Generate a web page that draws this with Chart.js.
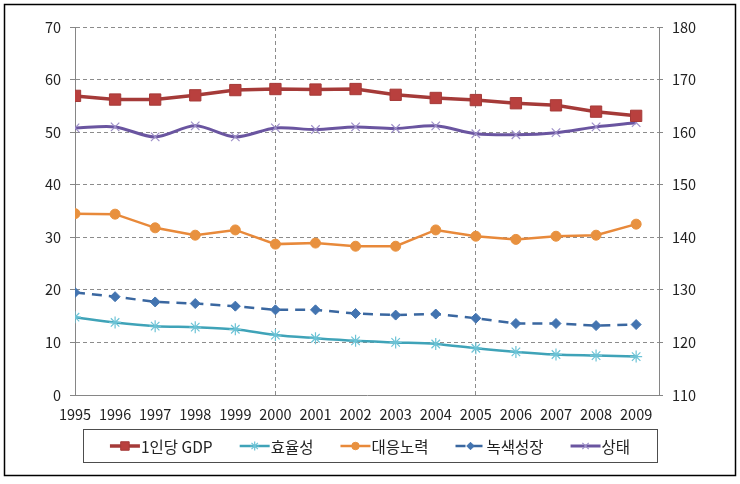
<!DOCTYPE html>
<html>
<head>
<meta charset="utf-8">
<script src="https://cdn.jsdelivr.net/npm/chart.js@4/dist/chart.umd.min.js"></script>
<style>
  html, body { margin: 0; padding: 0; background: #fff; }
  #chart { display: block; }
</style>
</head>
<body>
<canvas id="chart" width="740" height="484"></canvas>
<script>
// 데이터
const years = [1995, 1996, 1997, 1998, 1999, 2000, 2001, 2002, 2003, 2004, 2005, 2006, 2007, 2008, 2009];
const gdpPerCapita = [56.9, 56.2, 56.2, 57.0, 58.0, 58.2, 58.1, 58.2, 57.1, 56.5, 56.1, 55.5, 55.1, 53.9, 53.1];
const efficiency = [14.8, 13.8, 13.1, 12.9, 12.5, 11.4, 10.8, 10.3, 10.0, 9.7, 8.9, 8.2, 7.7, 7.5, 7.3];
const response = [34.5, 34.4, 31.8, 30.4, 31.4, 28.7, 28.9, 28.3, 28.3, 31.4, 30.2, 29.6, 30.2, 30.4, 32.5];
const greenGrowth = [19.5, 18.7, 17.7, 17.4, 16.9, 16.2, 16.2, 15.5, 15.2, 15.4, 14.6, 13.6, 13.6, 13.2, 13.4];
const state = [50.8, 51.0, 49.1, 51.2, 49.1, 50.8, 50.5, 51.0, 50.7, 51.2, 49.7, 49.5, 49.9, 51.0, 51.8];
const seriesLabels = ['1인당 GDP', '효율성', '대응노력', '녹색성장', '상태'];
const leftTicks = {min: 0, max: 70, step: 10};
const rightTicks = {min: 110, max: 180, step: 10};
const gridYears = [2000, 2005];

const FONT = '"Noto Sans CJK KR", "Noto Sans", sans-serif';
Chart.defaults.font.family = FONT;
Chart.defaults.font.size = 14;
Chart.defaults.color = '#222';

const toPoints = (values) => values.map((v, i) => ({x: years[i], y: v}));

// 테두리 있는 범례 + 바깥 테두리
const boxLegend = {
  id: 'boxLegend',
  afterDraw(chart) {
    const ctx = chart.ctx;
    ctx.save();
    ctx.font = '15.5px ' + FONT;
    const items = chart.data.datasets.map((ds) => ({ds, w: ctx.measureText(ds.label).width}));
    const lineLen = 30;
    const gap = 27;
    const total = items.reduce((s, it) => s + lineLen + 1 + it.w, 0) + gap * (items.length - 1);
    let x = 370 - total / 2;
    const y = 446;

    ctx.strokeStyle = '#4d4d4d';
    ctx.lineWidth = 1;
    ctx.strokeRect(83.5, 429.5, 574, 33);

    items.forEach(({ds, w}) => {
      ctx.save();
      ctx.strokeStyle = ds.borderColor;
      ctx.lineWidth = ds.borderWidth;
      ctx.setLineDash(ds.borderDash || []);
      ctx.beginPath();
      ctx.moveTo(x, y);
      ctx.lineTo(x + lineLen, y);
      ctx.stroke();
      ctx.setLineDash([]);
      ctx.fillStyle = ds.pointBackgroundColor;
      ctx.strokeStyle = ds.pointBorderColor;
      ctx.lineWidth = ds.pointBorderWidth;
      Chart.helpers.drawPoint(ctx, {
        pointStyle: ds.pointStyle,
        radius: ds.pointRadius * 0.75,
        rotation: 0,
        borderWidth: ds.pointBorderWidth,
      }, x + lineLen / 2, y);
      ctx.restore();
      ctx.fillStyle = '#222';
      ctx.textBaseline = 'middle';
      ctx.fillText(ds.label, x + lineLen + 1, y + 1);
      x += lineLen + 1 + w + gap;
    });

    ctx.strokeStyle = '#000';
    ctx.lineWidth = 1.5;
    ctx.strokeRect(4.5, 4.5, 731, 471);
    ctx.restore();
  },
};

const gridColor = '#8c8c8c';
const axisColor = '#868686';

new Chart(document.getElementById('chart'), {
  type: 'line',
  data: {
    datasets: [
      {
        label: seriesLabels[0],
        data: toPoints(gdpPerCapita),
        borderColor: '#a53a38',
        borderWidth: 3.5,
        pointStyle: 'rect',
        pointRadius: 8,
        pointBackgroundColor: '#b9403e',
        pointBorderColor: '#a53a38',
        pointBorderWidth: 1,
        tension: 0,
      },
      {
        label: seriesLabels[1],
        data: toPoints(efficiency),
        borderColor: '#3fa3b8',
        borderWidth: 2.5,
        pointStyle: 'star',
        pointRadius: 6,
        pointBackgroundColor: '#6cc3d6',
        pointBorderColor: '#6cc3d6',
        pointBorderWidth: 1.2,
        tension: 0.3,
      },
      {
        label: seriesLabels[2],
        data: toPoints(response),
        borderColor: '#e8893a',
        borderWidth: 2.5,
        pointStyle: 'circle',
        pointRadius: 5,
        pointBackgroundColor: '#e8913f',
        pointBorderColor: '#e8913f',
        pointBorderWidth: 1,
        tension: 0,
      },
      {
        label: seriesLabels[3],
        data: toPoints(greenGrowth),
        borderColor: '#3a67a0',
        borderWidth: 2.5,
        borderDash: [10, 7],
        pointStyle: 'rectRot',
        pointRadius: 5,
        pointBackgroundColor: '#4374b0',
        pointBorderColor: '#4374b0',
        pointBorderWidth: 1,
        tension: 0,
      },
      {
        label: seriesLabels[4],
        data: toPoints(state),
        borderColor: '#6a55a0',
        borderWidth: 3,
        pointStyle: 'crossRot',
        pointRadius: 6,
        pointBackgroundColor: '#9d8fc8',
        pointBorderColor: '#9d8fc8',
        pointBorderWidth: 1.2,
        tension: 0.3,
      },
    ],
  },
  options: {
    responsive: false,
    animation: false,
    layout: {padding: {top: 27, left: 0, right: 0, bottom: 0}},
    plugins: {legend: {display: false}, tooltip: {enabled: false}},
    scales: {
      x: {
        type: 'linear',
        min: years[0],
        max: 2009.57,
        afterFit: (s) => { s.height = 89; },
        afterBuildTicks: (s) => {
          s.ticks = years.map((v) => ({value: v}));
        },
        ticks: {
          autoSkip: false,
          maxRotation: 0,
          padding: 11,
          font: {size: 14.5},
          callback: (v) => String(v),
        },
        grid: {
          drawTicks: false,
          color: (c) => (c.tick && gridYears.includes(c.tick.value) ? gridColor : 'transparent'),
          lineWidth: 1,
        },
        border: {display: true, color: axisColor, width: 1, dash: [4, 3]},
      },
      y: {
        position: 'left',
        min: leftTicks.min,
        max: leftTicks.max,
        afterFit: (s) => { s.width = 75; },
        ticks: {stepSize: leftTicks.step, padding: 9, font: {size: 14.5}},
        grid: {
          color: gridColor,
          tickColor: axisColor,
          tickLength: 5,
          tickBorderDash: [],
        },
        border: {display: true, color: axisColor, width: 1, dash: [4, 3]},
      },
      y1: {
        position: 'right',
        display: true,
        min: rightTicks.min,
        max: rightTicks.max,
        afterFit: (s) => { s.width = 81; },
        ticks: {stepSize: rightTicks.step, padding: 9, font: {size: 14.5}},
        grid: {drawOnChartArea: false, tickColor: axisColor, tickLength: 4},
        border: {display: true, color: axisColor, width: 1},
      },
    },
  },
  plugins: [boxLegend],
});
</script>
</body>
</html>
